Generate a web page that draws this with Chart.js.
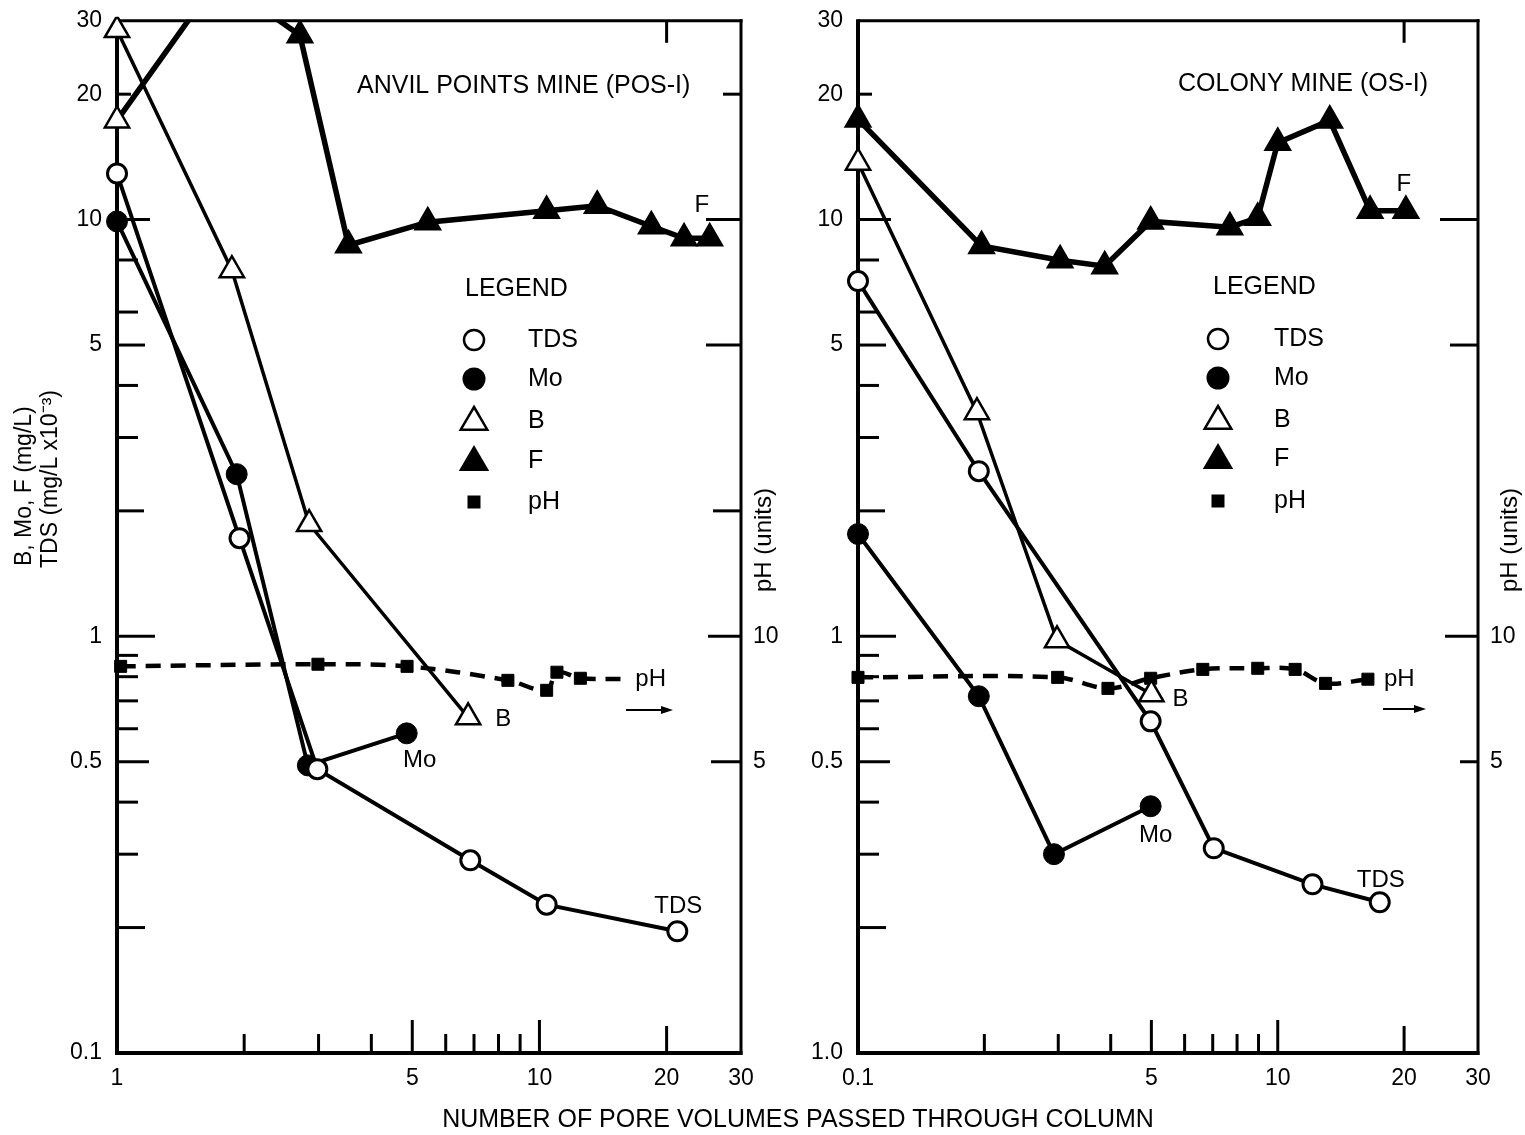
<!DOCTYPE html>
<html>
<head>
<meta charset="utf-8">
<script src="https://cdn.jsdelivr.net/npm/chart.js@4.4.1/dist/chart.umd.min.js"></script>
<style>
  html, body { margin: 0; padding: 0; background: #fff; }
  #wrap { position: relative; width: 1525px; height: 1135px; font-family: "Liberation Sans", Arial, sans-serif; }
  canvas { position: absolute; top: 0; }
  #anvil { left: 0; }
  #colony { left: 790px; }
  #xtitle { position: absolute; left: 0; width: 1596px; top: 1104px; line-height: 28px; text-align: center; font-size: 25px; color: #000; }
</style>
</head>
<body>
<div id="wrap">
  <canvas id="anvil" width="790" height="1135"></canvas>
  <canvas id="colony" width="735" height="1135"></canvas>
  <div id="xtitle">NUMBER OF PORE VOLUMES PASSED THROUGH COLUMN</div>
</div>
<script>
// [pore volumes, value]  B, Mo, F in mg/L, TDS in mg/L x10^-3, pH in units
const anvilTds = [[1, 12.9], [1.95, 1.72], [2.98, 0.48], [6.86, 0.29], [10.4, 0.227], [21.2, 0.196]];
const anvilMo = [[1, 9.9], [1.92, 2.45], [2.83, 0.49], [4.85, 0.585]];
const anvilB = [[1, 28.5], [1.87, 7.56], [2.85, 1.86], [6.78, 0.639]];
const anvilF = [[1, 17.3], [1.74, 38], [2.71, 27.7], [3.53, 8.68], [5.44, 9.86], [10.4, 10.5], [13.7, 10.8], [18.4, 9.64], [22.0, 9.02], [25.3, 9.02]];
const anvilPh = [[1.02, 8.47], [2.99, 8.57], [4.86, 8.47], [8.42, 7.84], [10.4, 7.42], [11.0, 8.2], [12.5, 7.93]];
const anvilPhTail = [[15.8, 7.9]];

const colonyTds = [[1, 7.12], [1.94, 2.49], [4.98, 0.625], [7.04, 0.31], [12.1, 0.254], [17.5, 0.23]];
const colonyMo = [[1, 1.76], [1.94, 0.718], [2.93, 0.30], [4.98, 0.391]];
const colonyB = [[1, 13.7], [1.92, 3.45], [2.98, 0.978], [5.0, 0.726]];
const colonyF = [[1, 17.4], [1.97, 8.64], [3.03, 7.99], [3.87, 7.73], [4.98, 9.9], [7.69, 9.59], [8.96, 10.1], [10.0, 15.3], [13.3, 17.3], [16.6, 10.5], [20.2, 10.5]];
const colonyPh = [[1, 7.97], [2.99, 7.97], [3.94, 7.5], [4.98, 7.93], [6.63, 8.33], [8.96, 8.38], [11.0, 8.33], [13.0, 7.71], [16.4, 7.89]];
const colonyPhTail = [];

// axis ticks (labels as printed on the figure)
const xTickValues = [1, 5, 10, 20, 30];
const anvilXLabels = ['1', '5', '10', '20', '30'];
const colonyXLabels = ['0.1', '5', '10', '20', '30'];
const yTickValues = [0.1, 0.5, 1, 5, 10, 20, 30];
const anvilYLabels = ['0.1', '0.5', '1', '5', '10', '20', '30'];
const colonyYLabels = ['1.0', '0.5', '1', '5', '10', '20', '30'];
const phTickValues = [5, 10];
const phLabels = ['5', '10'];
const xMinorTicks = [2, 3, 4, 6, 7, 8, 9];
const yMinorTicks = [8, 6, 4, 3, 0.9, 0.8, 0.7, 0.6, 0.4, 0.3];
const legendItems = ['TDS', 'Mo', 'B', 'F', 'pH'];

const FONT = '"Liberation Sans", Arial, Helvetica, sans-serif';
const Y_MAX = 30;

function pts(a) { return a.map(([x, y]) => ({ x, y })); }

function seg(ctx, x1, y1, x2, y2) {
  ctx.beginPath(); ctx.moveTo(x1, y1); ctx.lineTo(x2, y2); ctx.stroke();
}

function txt(ctx, s, x, y, size, align) {
  ctx.font = size + 'px ' + FONT;
  ctx.textAlign = align || 'left';
  ctx.textBaseline = 'middle';
  ctx.fillStyle = '#000';
  ctx.fillText(s, x, y);
}

function triangle(ctx, x, y, r) {
  ctx.beginPath();
  ctx.moveTo(x, y - r);
  ctx.lineTo(x + r * 0.95, y + r * 0.62);
  ctx.lineTo(x - r * 0.95, y + r * 0.62);
  ctx.closePath();
}

function buildSets(tds, mo, b, f, ph, phTail, firstFOpen) {
  const phAll = ph.concat(phTail);
  return [
    { label: 'TDS', data: pts(tds), borderColor: '#000', borderWidth: 4,
      pointStyle: 'circle', pointRadius: 9.5, pointBorderWidth: 3, pointBorderColor: '#000', pointBackgroundColor: '#fff',
      clip: { left: 20, top: 2, right: 20, bottom: 20 } },
    { label: 'Mo', data: pts(mo), borderColor: '#000', borderWidth: 4,
      pointStyle: 'circle', pointRadius: 10.5, pointBorderWidth: 1, pointBorderColor: '#000', pointBackgroundColor: '#000',
      clip: { left: 20, top: 2, right: 20, bottom: 20 } },
    { label: 'B', data: pts(b), borderColor: '#000', borderWidth: 3.5,
      pointStyle: 'triangle', pointRadius: 14, pointBorderWidth: 2.5, pointBorderColor: '#000', pointBackgroundColor: '#fff',
      clip: { left: 20, top: 4, right: 20, bottom: 20 } },
    { label: 'F', data: pts(f), borderColor: '#000', borderWidth: 5.5,
      pointStyle: 'triangle',
      pointRadius: f.map(p => (p[1] > Y_MAX ? 0 : 14)),
      pointBorderWidth: 2.5, pointBorderColor: '#000',
      pointBackgroundColor: f.map((p, i) => (i === 0 && firstFOpen ? '#fff' : '#000')),
      clip: { left: 20, top: 1, right: 20, bottom: 20 } },
    { label: 'pH', data: pts(phAll), yAxisID: 'y2', borderColor: '#000', borderWidth: 4.5, borderDash: [15, 10],
      tension: 0.35, pointStyle: 'rect',
      pointRadius: phAll.map((p, i) => (i < ph.length ? 8.5 : 0)),
      pointBorderWidth: 1, pointBorderColor: '#000', pointBackgroundColor: '#000',
      clip: { left: 20, top: 2, right: 20, bottom: 20 } }
  ];
}

function makeChart(id, cfg) {
  const frame = {
    id: 'frame',
    beforeDatasetsDraw(chart) {
      const { ctx, chartArea: a } = chart;
      const sx = chart.scales.x, sy = chart.scales.y;
      ctx.save();
      ctx.strokeStyle = '#000';
      ctx.lineWidth = 4;
      seg(ctx, a.left, a.top - 1.5, a.left, a.bottom + 2);
      seg(ctx, a.left - 2, a.bottom, a.right + 1.5, a.bottom);
      ctx.lineWidth = 3;
      seg(ctx, a.right, a.top - 1.5, a.right, a.bottom + 2);
      seg(ctx, a.left, a.top, a.right + 1.5, a.top);
      ctx.lineWidth = 3;
      xMinorTicks.forEach(v => { const p = sx.getPixelForValue(v); seg(ctx, p, a.bottom, p, a.bottom - 19); });
      [5, 10].forEach(v => { const p = sx.getPixelForValue(v); seg(ctx, p, a.bottom, p, a.bottom - 33); });
      { const p = sx.getPixelForValue(20); seg(ctx, p, a.bottom, p, a.bottom - 27); seg(ctx, p, a.top, p, a.top + 22); }
      yMinorTicks.forEach(v => { const p = sy.getPixelForValue(v); seg(ctx, a.left, p, a.left + 21, p); });
      [[20, 14], [10, 33], [5, 28], [2, 27], [1, 38], [0.5, 32], [0.2, 28]].forEach(([v, l]) => {
        const p = sy.getPixelForValue(v); seg(ctx, a.left, p, a.left + l, p);
      });
      cfg.rightTicks.forEach(([v, l]) => { const p = sy.getPixelForValue(v); seg(ctx, a.right, p, a.right - l, p); });
      ctx.restore();
    },
    afterDraw(chart) {
      const { ctx } = chart;
      const last = d => { const m = chart.getDatasetMeta(d).data; return m[m.length - 1]; };
      ctx.save();
      // panel title
      txt(ctx, cfg.title, cfg.titlePos[0], cfg.titlePos[1], 25, 'left');
      // axis titles, read bottom to top
      cfg.yTitles.forEach(t => {
        ctx.save();
        ctx.translate(t.x, t.y);
        ctx.rotate(-Math.PI / 2);
        txt(ctx, t.text, 0, 0, t.size, t.align);
        ctx.restore();
      });
      // series labels next to the curves
      cfg.notes.forEach(n => {
        const p = last(n.ds);
        txt(ctx, n.text, p.x + n.dx, p.y + n.dy, 24, n.align);
      });
      // arrow pointing to the pH axis
      const [ax1, ax2, ay] = cfg.arrow;
      ctx.strokeStyle = '#000'; ctx.fillStyle = '#000'; ctx.lineWidth = 2;
      seg(ctx, ax1, ay, ax2 - 8, ay);
      ctx.beginPath(); ctx.moveTo(ax2, ay); ctx.lineTo(ax2 - 12, ay - 4); ctx.lineTo(ax2 - 12, ay + 4); ctx.closePath(); ctx.fill();
      // legend
      const L = cfg.legend;
      txt(ctx, 'LEGEND', L.x, L.y, 25, 'left');
      legendItems.forEach((name, i) => {
        const cy = L.rows[i], cx = L.sx;
        ctx.lineWidth = 2.5; ctx.strokeStyle = '#000'; ctx.fillStyle = '#000';
        if (name === 'TDS') { ctx.beginPath(); ctx.arc(cx, cy, 10, 0, Math.PI * 2); ctx.stroke(); }
        if (name === 'Mo') { ctx.beginPath(); ctx.arc(cx, cy, 11.5, 0, Math.PI * 2); ctx.fill(); }
        if (name === 'B') { triangle(ctx, cx, cy, 14); ctx.stroke(); }
        if (name === 'F') { triangle(ctx, cx, cy, 16); ctx.fill(); }
        if (name === 'pH') { ctx.fillRect(cx - 6.5, cy - 6.5, 13, 13); }
        txt(ctx, name, L.tx, cy, 25, 'left');
      });
      ctx.restore();
    }
  };

  const tickFont = { family: FONT, size: 23 };
  return new Chart(document.getElementById(id), {
    type: 'line',
    data: { datasets: cfg.datasets },
    options: {
      responsive: false,
      animation: false,
      events: [],
      layout: { padding: { top: 17, left: 0, right: 0, bottom: 0 } },
      plugins: { legend: { display: false }, tooltip: { enabled: false } },
      scales: {
        x: {
          type: 'logarithmic', min: 1, max: 30,
          afterFit: s => { s.height = 82; },
          afterBuildTicks: s => { s.ticks = xTickValues.map(v => ({ value: v })); },
          grid: { display: false }, border: { display: false },
          ticks: { autoSkip: false, maxRotation: 0, padding: 4, color: '#000', font: tickFont,
                   callback: v => cfg.xLabels[xTickValues.indexOf(v)] }
        },
        y: {
          type: 'logarithmic', position: 'left', min: 0.1, max: 30,
          afterFit: s => { s.width = cfg.leftW; },
          afterBuildTicks: s => { s.ticks = yTickValues.map(v => ({ value: v })); },
          grid: { display: false }, border: { display: false },
          ticks: { autoSkip: false, padding: 7, color: '#000', font: tickFont,
                   callback: v => cfg.yLabels[yTickValues.indexOf(v)] }
        },
        y2: {
          type: 'logarithmic', position: 'right', min: 1, max: 300,
          afterFit: s => { s.width = cfg.rightW; },
          afterBuildTicks: s => { s.ticks = phTickValues.map(v => ({ value: v })); },
          grid: { display: false }, border: { display: false },
          ticks: { autoSkip: false, padding: 4, color: '#000', font: tickFont,
                   callback: v => phLabels[phTickValues.indexOf(v)] }
        }
      }
    },
    plugins: [frame]
  });
}

makeChart('anvil', {
  datasets: buildSets(anvilTds, anvilMo, anvilB, anvilF, anvilPh, anvilPhTail, true),
  xLabels: anvilXLabels, yLabels: anvilYLabels,
  leftW: 117, rightW: 49,
  rightTicks: [[20, 18], [10, 35], [5, 35], [2, 28], [1, 33], [0.5, 30]],
  title: 'ANVIL POINTS MINE (POS-I)', titlePos: [357, 86],
  yTitles: [
    { text: 'B, Mo, F (mg/L)', x: 25, y: 566, size: 23, align: 'left' },
    { text: 'TDS (mg/L x10\u207B\u00B3)', x: 51, y: 568, size: 23, align: 'left' },
    { text: 'pH (units)', x: 764, y: 540, size: 24, align: 'center' }
  ],
  notes: [
    { text: 'F', ds: 3, dx: -8, dy: -33, align: 'center' },
    { text: 'B', ds: 2, dx: 27, dy: 2, align: 'left' },
    { text: 'Mo', ds: 1, dx: 13, dy: 27, align: 'center' },
    { text: 'TDS', ds: 0, dx: 1, dy: -25, align: 'center' },
    { text: 'pH', ds: 4, dx: 12, dy: 0, align: 'left' }
  ],
  arrow: [626, 673, 710],
  legend: { x: 465, y: 289, sx: 474, tx: 528, rows: [340, 379, 421, 461, 502] }
});

makeChart('colony', {
  datasets: buildSets(colonyTds, colonyMo, colonyB, colonyF, colonyPh, colonyPhTail, false),
  xLabels: colonyXLabels, yLabels: colonyYLabels,
  leftW: 68, rightW: 47,
  rightTicks: [[10, 38], [5, 28], [1, 33], [0.5, 18]],
  title: 'COLONY MINE (OS-I)', titlePos: [388, 84],
  yTitles: [
    { text: 'pH (units)', x: 720, y: 540, size: 24, align: 'center' }
  ],
  notes: [
    { text: 'F', ds: 3, dx: -2, dy: -26, align: 'center' },
    { text: 'B', ds: 2, dx: 21, dy: 5, align: 'left' },
    { text: 'Mo', ds: 1, dx: 5, dy: 29, align: 'center' },
    { text: 'TDS', ds: 0, dx: 1, dy: -22, align: 'center' },
    { text: 'pH', ds: 4, dx: 16, dy: 0, align: 'left' }
  ],
  arrow: [593, 636, 709],
  legend: { x: 423, y: 287, sx: 428, tx: 484, rows: [339, 378, 420, 459, 501] }
});
</script>
</body>
</html>
